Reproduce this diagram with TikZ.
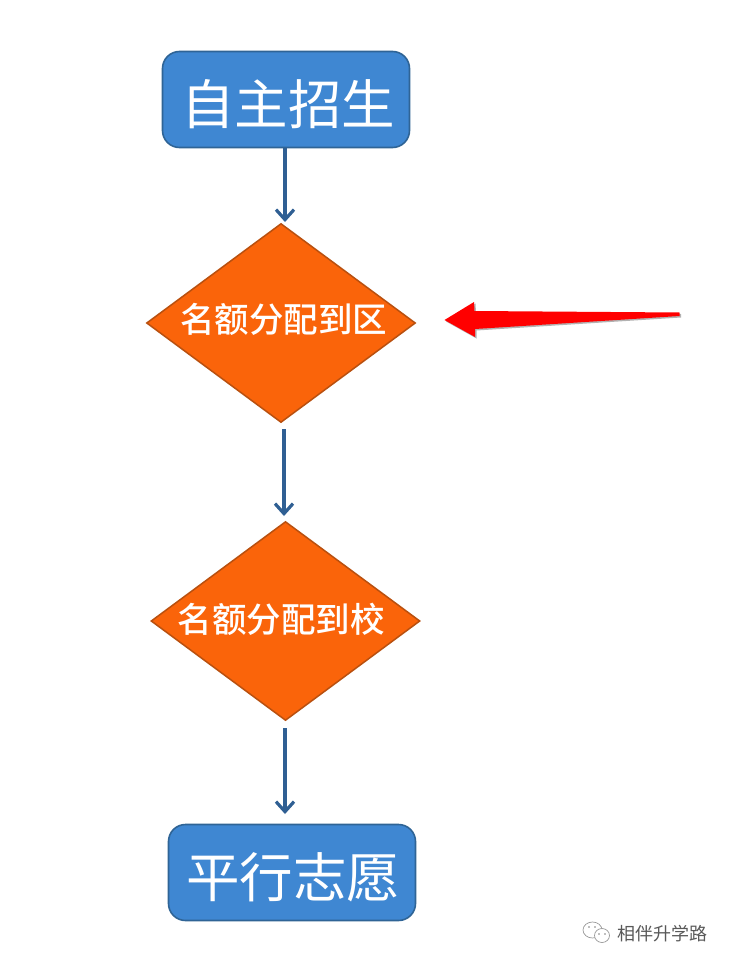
\documentclass[tikz,border=0pt]{standalone}
\usepackage{fontspec}
\newfontfamily\cjk{Noto Sans CJK SC}
\newfontfamily\cjkm{Noto Sans CJK SC Medium}
\usetikzlibrary{shapes.geometric,arrows.meta}
\definecolor{boxblue}{HTML}{3F87D2}
\definecolor{boxedge}{HTML}{2F6496}
\definecolor{arrowblue}{HTML}{2F5F93}
\definecolor{dia}{HTML}{FA640A}
\definecolor{diaedge}{HTML}{B9500F}
\tikzset{
  x=1pt,y=-1pt,
  bluebox/.style={draw=boxedge,line width=1.6pt,fill=boxblue,rounded corners=17pt,minimum width=247pt,minimum height=96pt,inner sep=0pt},
  bluelabel/.style={text=white,inner sep=0pt,font=\cjk\fontsize{53.5}{54}\selectfont},
  diabox/.style={draw=diaedge,line width=1.5pt,fill=dia,diamond,aspect=1.35,minimum width=269pt,minimum height=199pt,inner sep=0pt},
  dialabel/.style={text=white,inner sep=0pt,font=\cjkm\fontsize{34.5}{35}\selectfont},
  flow/.style={draw=arrowblue,line width=3.5pt,-{Straight Barb[length=10pt,width=18pt,line width=3.2pt]}},
  redarrow/.style={fill=red},
  redshadow/.style={fill=black!60,opacity=.5},
  wm/.style={text=black!65,inner sep=0pt,font=\cjk\fontsize{18}{18}\selectfont},
  wmicon/.style={draw=black!40,fill=white,line width=.7pt},
  wmeye/.style={fill=black!50}
}
\begin{document}
\begin{tikzpicture}
\useasboundingbox (0,0) rectangle (730,966);
\fill[white] (0,0) rectangle (730,966);
\node[bluebox] (a) at (286,99.5) {};
\node[bluelabel] (at) at (288,104) {自主招生};
\node[diabox] (b) at (281,323) {};
\node[dialabel] (bt) at (283.5,319) {名额分配到区};
\node[diabox] (c) at (285.5,621) {};
\node[dialabel] (ct) at (281,619) {名额分配到校};
\node[bluebox] (d) at (292,872.5) {};
\node[bluelabel] (dt) at (293,877) {平行志愿};
\coordinate (a1) at (285,148);
\coordinate (a2) at (285,222);
\coordinate (b1) at (284,429);
\coordinate (b2) at (284,516);
\coordinate (c1) at (285,728);
\coordinate (c2) at (285,814);
\draw[flow] (a1) -- (a2);
\draw[flow] (b1) -- (b2);
\draw[flow] (c1) -- (c2);
\fill[redshadow] (446,321.5) -- (475.5,303.5) -- (476,312.5) -- (681,314) -- (681,317.5) -- (476.5,330.5) -- (476.5,338.5) -- cycle;
\fill[redarrow] (444.5,320) -- (474,302) -- (474.5,311) -- (679.5,312.5) -- (679.5,316) -- (475,329) -- (475,337) -- cycle;
\draw[wmicon] (592.5,930) ellipse (9.5pt and 8pt);
\draw[wmicon] (602,935.5) ellipse (7.5pt and 7pt);
\fill[wmeye] (589,927) circle (.8pt) (595,927) circle (.8pt) (599,934) circle (.8pt) (605,934) circle (.8pt);
\node[wm] (w) at (662,934) {相伴升学路};
\end{tikzpicture}
\end{document}
